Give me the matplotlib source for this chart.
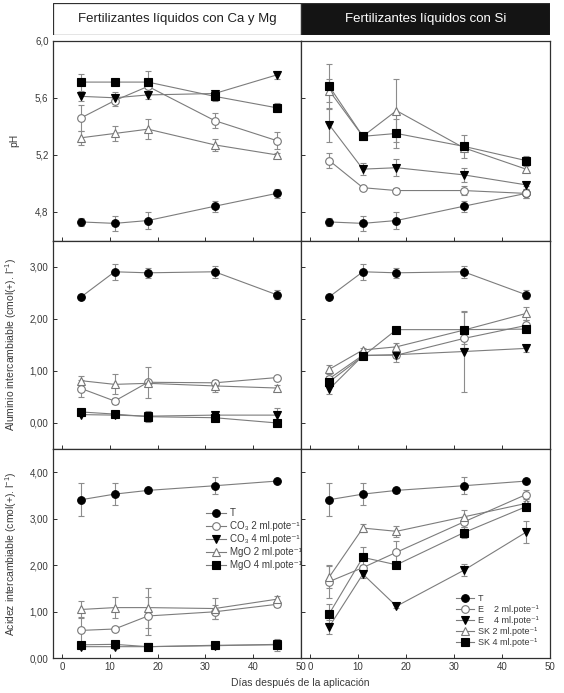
import matplotlib
matplotlib.use("Agg")
import matplotlib.pyplot as plt
from matplotlib.ticker import FuncFormatter, FixedLocator
from matplotlib.patches import Rectangle
from matplotlib.lines import Line2D

plt.rcParams['font.family'] = ['Liberation Sans', 'DejaVu Sans']
plt.rcParams['mathtext.fontset'] = 'custom'
plt.rcParams['mathtext.rm'] = 'Liberation Sans'
plt.rcParams['mathtext.it'] = 'Liberation Sans:italic'

# days after application
dias = [4, 11, 18, 32, 45]

# --- pH ---
ph_T = [4.73, 4.72, 4.74, 4.84, 4.93]
ph_T_err = [0.03, 0.05, 0.06, 0.04, 0.03]
ph_co3_2 = [5.46, 5.58, 5.68, 5.44, 5.30]
ph_co3_2_err = [0.09, 0.04, 0.03, 0.05, 0.06]
ph_co3_4 = [5.61, 5.60, 5.62, 5.63, 5.76]
ph_co3_4_err = [0.03, 0.04, 0.03, 0.02, 0.03]
ph_mgo_2 = [5.32, 5.35, 5.38, 5.27, 5.20]
ph_mgo_2_err = [0.05, 0.05, 0.07, 0.04, 0.01]
ph_mgo_4 = [5.71, 5.71, 5.71, 5.61, 5.53]
ph_mgo_4_err = [0.06, 0.01, 0.08, 0.03, 0.03]
ph_e_2 = [5.16, 4.97, 4.95, 4.95, 4.93]
ph_e_2_err = [0.05, 0.01, 0.02, 0.03, 0.03]
ph_e_4 = [5.41, 5.10, 5.11, 5.06, 4.99]
ph_e_4_err = [0.12, 0.04, 0.06, 0.05, 0.01]
ph_sk_2 = [5.65, 5.33, 5.51, 5.25, 5.10]
ph_sk_2_err = [0.08, 0.02, 0.22, 0.02, 0.02]
ph_sk_4 = [5.68, 5.33, 5.35, 5.26, 5.16]
ph_sk_4_err = [0.16, 0.02, 0.10, 0.08, 0.03]

# --- aluminio intercambiable ---
al_T = [2.42, 2.90, 2.88, 2.90, 2.46]
al_T_err = [0.03, 0.15, 0.09, 0.11, 0.09]
al_co3_2 = [0.66, 0.42, 0.78, 0.77, 0.87]
al_co3_2_err = [0.16, 0.05, 0.30, 0.05, 0.02]
al_co3_4 = [0.16, 0.15, 0.13, 0.15, 0.15]
al_co3_4_err = [0.03, 0.03, 0.03, 0.02, 0.14]
al_mgo_2 = [0.81, 0.74, 0.76, 0.71, 0.67]
al_mgo_2_err = [0.09, 0.19, 0.05, 0.12, 0.05]
al_mgo_4 = [0.21, 0.17, 0.12, 0.10, 0.00]
al_mgo_4_err = [0.02, 0.02, 0.10, 0.04, 0.02]
al_e_2 = [0.85, 1.30, 1.30, 1.62, 1.87]
al_e_2_err = [0.05, 0.03, 0.05, 0.10, 0.10]
al_e_4 = [0.65, 1.29, 1.31, 1.37, 1.43]
al_e_4_err = [0.09, 0.03, 0.15, 0.78, 0.06]
al_sk_2 = [1.03, 1.40, 1.46, 1.78, 2.10]
al_sk_2_err = [0.09, 0.03, 0.07, 0.35, 0.12]
al_sk_4 = [0.79, 1.28, 1.79, 1.79, 1.80]
al_sk_4_err = [0.05, 0.03, 0.03, 0.05, 0.03]

# --- acidez intercambiable ---
ac_T = [3.41, 3.53, 3.61, 3.71, 3.81]
ac_T_err = [0.36, 0.23, 0.05, 0.18, 0.02]
ac_co3_2 = [0.60, 0.63, 0.91, 1.00, 1.16]
ac_co3_2_err = [0.28, 0.05, 0.40, 0.15, 0.05]
ac_co3_4 = [0.25, 0.25, 0.25, 0.27, 0.30]
ac_co3_4_err = [0.03, 0.05, 0.03, 0.02, 0.03]
ac_mgo_2 = [1.05, 1.09, 1.09, 1.07, 1.27]
ac_mgo_2_err = [0.18, 0.22, 0.43, 0.22, 0.07]
ac_mgo_4 = [0.29, 0.30, 0.25, 0.28, 0.29]
ac_mgo_4_err = [0.02, 0.02, 0.02, 0.02, 0.13]
ac_e_2 = [1.65, 1.95, 2.28, 2.93, 3.52]
ac_e_2_err = [0.36, 0.05, 0.25, 0.10, 0.10]
ac_e_4 = [0.68, 1.81, 1.12, 1.89, 2.71]
ac_e_4_err = [0.15, 0.09, 0.03, 0.13, 0.24]
ac_sk_2 = [1.75, 2.80, 2.73, 3.04, 3.33]
ac_sk_2_err = [0.24, 0.08, 0.12, 0.15, 0.05]
ac_sk_4 = [0.96, 2.17, 2.01, 2.70, 3.26]
ac_sk_4_err = [0.20, 0.23, 0.05, 0.12, 0.05]

labels_left = ['T', 'CO₃ 2 ml.pote⁻¹', 'CO₃ 4 ml.pote⁻¹',
               'MgO 2 ml.pote⁻¹', 'MgO 4 ml.pote⁻¹']
labels_right = ['T', 'E    2 ml.pote⁻¹', 'E    4 ml.pote⁻¹',
                'SK 2 ml.pote⁻¹', 'SK 4 ml.pote⁻¹']

# marker, face colour for the 5 treatments (same order in both columns)
styles = [('o', 'black'), ('o', 'white'), ('v', 'black'), ('^', 'white'), ('s', 'black')]

LINE = '#7c7c7c'
ERR = '#8c8c8c'
FRAME = '#303030'
TXT = '#3a3a3a'


def edge(fc):
    return 'black' if fc == 'black' else '#777777'


def draw(ax, series):
    for (vals, errs), (mk, fc) in zip(series, styles):
        ax.errorbar(dias, vals, yerr=errs, color=LINE, lw=0.8, ecolor=ERR,
                    elinewidth=0.8, capsize=2.5, capthick=0.8,
                    marker=mk, ms=5.5, mfc=fc, mec=edge(fc), mew=0.8)


def legend_handles():
    return [Line2D([], [], color=LINE, lw=0.8, marker=mk, ms=5.5, mfc=fc,
                   mec=edge(fc), mew=0.8) for mk, fc in styles]


def style(ax, ylim, yticks, fmt, show_y, show_x):
    ax.set_xlim(-2, 50)
    ax.set_ylim(*ylim)
    ax.xaxis.set_major_locator(FixedLocator([0, 10, 20, 30, 40, 50]))
    ax.yaxis.set_major_locator(FixedLocator(yticks))
    ax.yaxis.set_major_formatter(FuncFormatter(lambda v, p: (fmt % v).replace('.', ',')))
    ax.tick_params(direction='in', length=3, width=0.7, labelsize=7, colors=FRAME,
                   labelcolor=TXT, top=False, right=False, pad=3)
    ax.tick_params(axis='y', labelleft=show_y)
    ax.tick_params(axis='x', labelbottom=show_x)
    for s in ax.spines.values():
        s.set_color(FRAME)
        s.set_linewidth(0.9)


W, H = 564, 693
fig = plt.figure(figsize=(W / 100, H / 100), dpi=100)

xl, xm, xr = 52.7, 300.5, 550.0
rows = [(40.7, 240.5), (240.5, 449.0), (449.0, 658.3)]


def add(x0, x1, y0, y1):
    return fig.add_axes([x0 / W, 1 - y1 / H, (x1 - x0) / W, (y1 - y0) / H])


# header
hd = add(xl, xr, 3.3, 35.0)
hd.set_xlim(0, 2)
hd.set_ylim(0, 1)
hd.axis('off')
hd.add_patch(Rectangle((0, 0), 1, 1, facecolor='white', edgecolor=FRAME, lw=0.9))
hd.add_patch(Rectangle((1, 0), 1, 1, facecolor='#141414', edgecolor=FRAME, lw=0.9))
hd.text(0.5, 0.5, 'Fertilizantes líquidos con Ca y Mg', ha='center', va='center',
        fontsize=9.5, color='#202020')
hd.text(1.5, 0.5, 'Fertilizantes líquidos con Si', ha='center', va='center',
        fontsize=9.5, color='white')

left_data = [
    list(zip([ph_T, ph_co3_2, ph_co3_4, ph_mgo_2, ph_mgo_4],
             [ph_T_err, ph_co3_2_err, ph_co3_4_err, ph_mgo_2_err, ph_mgo_4_err])),
    list(zip([al_T, al_co3_2, al_co3_4, al_mgo_2, al_mgo_4],
             [al_T_err, al_co3_2_err, al_co3_4_err, al_mgo_2_err, al_mgo_4_err])),
    list(zip([ac_T, ac_co3_2, ac_co3_4, ac_mgo_2, ac_mgo_4],
             [ac_T_err, ac_co3_2_err, ac_co3_4_err, ac_mgo_2_err, ac_mgo_4_err])),
]
right_data = [
    list(zip([ph_T, ph_e_2, ph_e_4, ph_sk_2, ph_sk_4],
             [ph_T_err, ph_e_2_err, ph_e_4_err, ph_sk_2_err, ph_sk_4_err])),
    list(zip([al_T, al_e_2, al_e_4, al_sk_2, al_sk_4],
             [al_T_err, al_e_2_err, al_e_4_err, al_sk_2_err, al_sk_4_err])),
    list(zip([ac_T, ac_e_2, ac_e_4, ac_sk_2, ac_sk_4],
             [ac_T_err, ac_e_2_err, ac_e_4_err, ac_sk_2_err, ac_sk_4_err])),
]

limits = [(4.6, 6.0), (-0.5, 3.5), (0, 4.5)]
ticks = [[4.8, 5.2, 5.6, 6.0], [0, 1, 2, 3], [0, 1, 2, 3, 4]]
fmts = ['%.1f', '%.2f', '%.2f']
ylabels = ['pH', 'Aluminio intercambiable (cmol(+). l$^{-1}$)',
           'Acidez intercambiable (cmol(+). l$^{-1}$)']

axes = []
for i, (y0, y1) in enumerate(rows):
    a = add(xl, xm, y0, y1)
    b = add(xm, xr, y0, y1)
    draw(a, left_data[i])
    draw(b, right_data[i])
    style(a, limits[i], ticks[i], fmts[i], True, i == 2)
    style(b, limits[i], ticks[i], fmts[i], False, i == 2)
    a.set_ylabel(ylabels[i], fontsize=7.5, color=TXT)
    a.yaxis.set_label_coords(-0.135, 0.5)
    axes.append((a, b))

# legends in the bottom row
a, b = axes[2]
a.legend(legend_handles(), labels_left, loc='upper left', bbox_to_anchor=(0.6, 0.74),
         frameon=False, fontsize=7, handlelength=2.0, handletextpad=0.4,
         labelspacing=0.3, borderpad=0, labelcolor=TXT)
b.legend(legend_handles(), labels_right, loc='upper left', bbox_to_anchor=(0.605, 0.33),
         frameon=False, fontsize=6.5, handlelength=2.0, handletextpad=0.4,
         labelspacing=0.22, borderpad=0, labelcolor=TXT)

fig.text(xm / W, 1 - 683 / H, 'Días después de la aplicación', ha='center', va='center',
         fontsize=7.5, color=TXT)

fig.savefig('out.png', dpi=100)
